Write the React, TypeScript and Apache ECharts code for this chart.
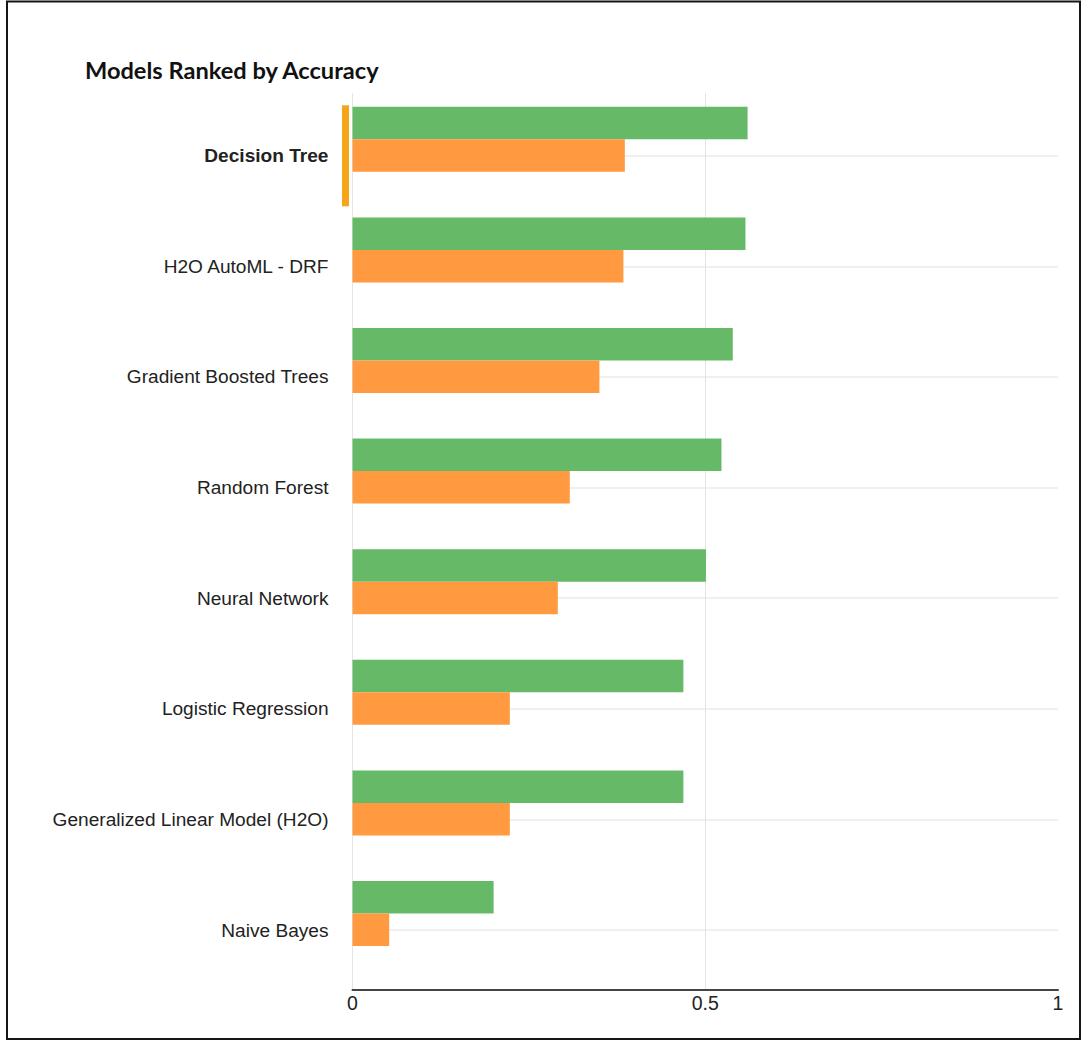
import React, { useEffect, useRef } from "react";
import * as echarts from "echarts";

const categories = [
  "Decision Tree",
  "H2O AutoML - DRF",
  "Gradient Boosted Trees",
  "Random Forest",
  "Neural Network",
  "Logistic Regression",
  "Generalized Linear Model (H2O)",
  "Naive Bayes",
];
const greenValues = [0.56, 0.557, 0.539, 0.523, 0.501, 0.469, 0.469, 0.2];
const orangeValues = [0.386, 0.384, 0.35, 0.308, 0.291, 0.223, 0.223, 0.052];
const xTicks = [0, 0.5, 1];
const selectedIndex = 0;

const LABEL_FONT = "Liberation Sans";

export default function App() {
  const ref = useRef<HTMLDivElement>(null);
  useEffect(() => {
    if (!ref.current) return;
    const chart = echarts.init(ref.current, undefined, { renderer: "svg" });
    const left = 352.5;
    const right = 24;
    const option: any = {
      animation: false,
      backgroundColor: "#ffffff",
      textStyle: { fontFamily: LABEL_FONT },
      title: {
        text: "Models Ranked by Accuracy",
        left: 80,
        top: 53,
        textStyle: {
          fontFamily: "Lato",
          fontWeight: "bold",
          fontSize: 23.6,
          color: "#111111",
        },
      },
      graphic: [
        {
          type: "rect",
          shape: { x: 7, y: 1.5, width: 1073, height: 1037.5 },
          style: { fill: "none", stroke: "#151515", lineWidth: 2 },
          silent: true,
        },
      ],
      grid: [
        { left, right, top: 93, bottom: 1041 - 990 },
        { left, right, top: 84, bottom: 1041 - 968.8 },
        { left, right, top: 155.7, bottom: 1041 - 930 },
      ],
      xAxis: [
        {
          type: "value",
          gridIndex: 0,
          min: 0,
          max: 1,
          interval: 0.5,
          axisLine: { show: true, onZero: false, lineStyle: { color: "#444444", width: 2 } },
          axisTick: { show: false },
          axisLabel: {
            fontFamily: LABEL_FONT,
            fontSize: 19.5,
            color: "#222222",
            margin: 3,
            formatter: (v: number) => (xTicks.includes(v) ? String(v) : ""),
          },
          splitLine: {
            show: true,
            showMaxLine: false,
            lineStyle: { color: "#e4e4e4", width: 1 },
          },
        },
        { type: "value", gridIndex: 1, min: 0, max: 1, show: false },
        { type: "value", gridIndex: 2, min: 0, max: 1, show: false },
      ],
      yAxis: [
        { type: "value", gridIndex: 0, show: false, min: 0, max: 1, splitLine: { show: false } },
        {
          type: "category",
          gridIndex: 1,
          data: categories,
          inverse: true,
          show: false,
        },
        {
          type: "category",
          gridIndex: 2,
          data: categories,
          inverse: true,
          boundaryGap: false,
          axisLine: { show: false },
          axisTick: { show: false },
          axisLabel: {
            fontFamily: LABEL_FONT,
            fontSize: 19.1,
            color: "#222222",
            margin: 24,
            formatter: (v: string, i: number) => (i === selectedIndex ? `{b|${v}}` : v),
            rich: {
              b: {
                fontFamily: LABEL_FONT,
                fontSize: 19.1,
                fontWeight: "bold",
                color: "#222222",
              },
            },
          },
          splitLine: { show: true, lineStyle: { color: "#ebebeb", width: 1.5 } },
        },
      ],
      series: [
        {
          type: "bar",
          name: "Accuracy",
          xAxisIndex: 1,
          yAxisIndex: 1,
          data: greenValues,
          barWidth: 32.5,
          barGap: "0%",
          itemStyle: { color: "#66B966" },
          z: 3,
        },
        {
          type: "bar",
          name: "Baseline",
          xAxisIndex: 1,
          yAxisIndex: 1,
          data: orangeValues,
          barWidth: 32.5,
          barGap: "0%",
          itemStyle: { color: "#FF9A40" },
          z: 3,
        },
        {
          type: "custom",
          xAxisIndex: 1,
          yAxisIndex: 1,
          clip: false,
          z: 4,
          data: [[0, selectedIndex]],
          renderItem: (_params: any, api: any) => {
            const p = api.coord([api.value(0), api.value(1)]);
            return {
              type: "rect",
              shape: { x: p[0] - 10.5, y: p[1] - 34, width: 7, height: 101 },
              style: { fill: "#F4A519" },
            };
          },
        },
      ],
    };
    chart.setOption(option);
    return () => chart.dispose();
  }, []);
  return (
    <div
      ref={ref}
      style={{ position: "fixed", left: 0, top: 0, width: 1082, height: 1041 }}
    />
  );
}
